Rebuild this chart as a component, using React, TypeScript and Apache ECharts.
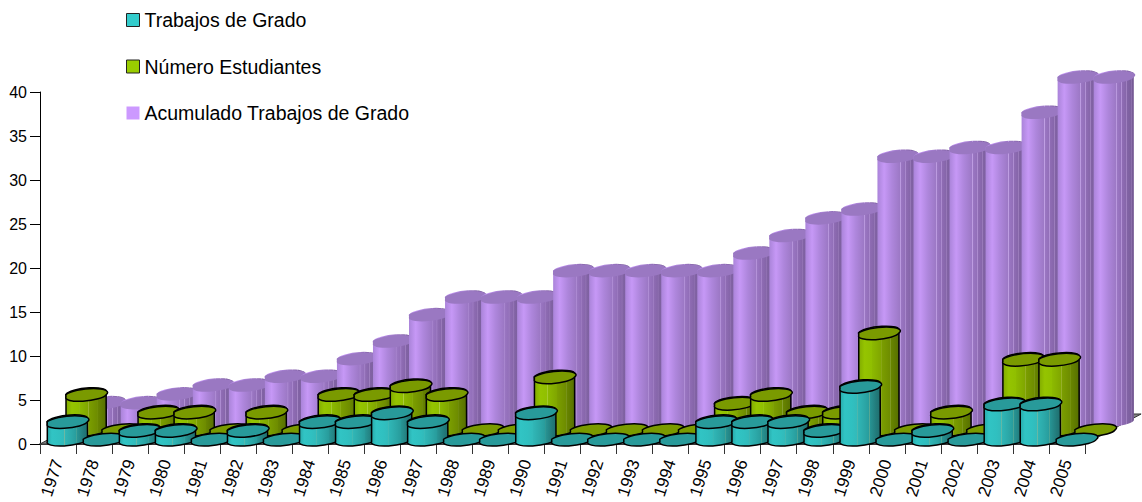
import React, { useEffect, useRef } from "react";
import * as echarts from "echarts";

const years = ["1977","1978","1979","1980","1981","1982","1983","1984","1985","1986","1987","1988","1989","1990","1991","1992","1993","1994","1995","1996","1997","1998","1999","2000","2001","2002","2003","2004","2005"];
const trabajos = [2,0,1,1,0,1,0,2,2,3,2,0,0,3,0,0,0,0,2,2,2,1,6,0,1,0,4,4,0];
const estudiantes = [4,0,2,2,0,2,0,4,4,5,4,0,0,6,0,0,0,0,3,4,2,2,11,0,2,0,8,8,0];
const acumulado = [2,2,3,4,4,5,5,7,9,12,14,14,14,17,17,17,17,17,19,21,23,24,30,30,31,31,35,39,39];

const FONT = "'Liberation Sans', Arial, sans-serif";
const RX = 20.2;
const RY = 5.2;
const TILT = 6.5;
const ROW_DX = 18.7;
const ROW_DY = -9.5;
const FLOOR_DY = -30;

const grad = (stops: [number, string][]) =>
  new echarts.graphic.LinearGradient(0, 0, 1, 0, stops.map(([offset, color]) => ({ offset, color })));

const tealBody: [number, string][] = [[0,"#27a8a8"],[0.12,"#31c4c4"],[0.3,"#30c0c0"],[0.42,"#32baba"],[0.43,"#6fb8a2"],[0.44,"#30b6b6"],[0.6,"#2ca8a8"],[0.72,"#289c9c"],[0.73,"#5aa893"],[0.74,"#279494"],[0.9,"#227a7a"],[1,"#1e6e6e"]];
const greenBody: [number, string][] = [[0,"#80aa00"],[0.15,"#95c400"],[0.32,"#90bf00"],[0.33,"#accd40"],[0.34,"#8cb900"],[0.55,"#80a600"],[0.56,"#9ab330"],[0.57,"#7b9e00"],[0.78,"#6e8c00"],[0.79,"#869f30"],[0.8,"#688500"],[1,"#566f00"]];
const purpleBody: [number, string][] = [[0,"#a983d8"],[0.17,"#c698f6"],[0.36,"#ae86dc"],[0.56,"#9c78c5"],[0.57,"#c0a0e4"],[0.59,"#9a76c2"],[0.68,"#926fb9"],[0.69,"#b494d7"],[0.71,"#8f6cb4"],[0.8,"#8666aa"],[0.81,"#a687c6"],[0.83,"#8263a5"],[0.92,"#7c609e"],[0.93,"#967ab5"],[0.95,"#785c98"],[1,"#725690"]];

const cylinder = (row: number, body: [number, string][], top: string, stroke: string | null) =>
  (_params: any, api: any) => {
    const i = api.value(0);
    const b = api.coord([i, 0]);
    const t = api.coord([i, api.value(1)]);
    const depth = row + 0.5;
    const cx = b[0] + depth * ROW_DX;
    const by = b[1] + depth * ROW_DY;
    const ty = t[1] + depth * ROW_DY;
    const rad = (TILT * Math.PI) / 180;
    const ex = RX * Math.cos(rad);
    const ey = RX * Math.sin(rad);
    const lx = cx - ex;
    const rx = cx + ex;
    const arc = `A ${RX} ${RY} ${-TILT} 0 0`;
    const bodyPath = `M ${lx} ${ty + ey} L ${lx} ${by + ey} ${arc} ${rx} ${by - ey} L ${rx} ${ty - ey} ${arc} ${lx} ${ty + ey} Z`;
    const topPath = `M ${lx} ${ty + ey} ${arc} ${rx} ${ty - ey} ${arc} ${lx} ${ty + ey} Z`;
    const strokeStyle = stroke ? { stroke, lineWidth: 1.5 } : { stroke: "none" };
    const children: any[] = [];
    if (by - ty > 0.5) {
      children.push({ type: "path", shape: { pathData: bodyPath }, style: { fill: grad(body), ...strokeStyle } });
    }
    children.push({ type: "path", shape: { pathData: topPath }, style: { fill: top, ...strokeStyle } });
    return { type: "group", children };
  };

const floor = (_params: any, api: any) => {
  const band = api.size([1, 0])[0];
  const a = api.coord([0, 0]);
  const z = api.coord([years.length - 1, 0]);
  const x0 = a[0] - band / 2;
  const x1 = z[0] + band / 2;
  const y = a[1];
  const dx = 3 * ROW_DX;
  return {
    type: "polygon",
    shape: { points: [[x0, y], [x1, y], [x1 + dx, y + FLOOR_DY], [x0 + dx, y + FLOOR_DY]] },
    style: { fill: "#858585", stroke: "#333333", lineWidth: 1 },
  };
};

const toData = (vals: number[]) => vals.map((v, i) => [i, v]);

export default function App() {
  const ref = useRef<HTMLDivElement>(null);
  useEffect(() => {
    document.body.style.margin = "0";
    const chart = echarts.init(ref.current!, null, { renderer: "svg" });
    chart.setOption({
      animation: false,
      backgroundColor: "#ffffff",
      grid: { left: 40, top: 92, width: 1045, height: 352, containLabel: false, outerBoundsMode: "none" },
      legend: {
        left: 121,
        top: 5,
        orient: "vertical",
        itemWidth: 13,
        itemHeight: 13,
        itemGap: 26.5,
        textStyle: { fontFamily: FONT, fontSize: 19.5, color: "#000000" },
        data: [
          { name: "Trabajos de Grado", icon: "rect", itemStyle: { color: "#33cccc", borderColor: "#222222", borderWidth: 1 } },
          { name: "Número Estudiantes", icon: "rect", itemStyle: { color: "#99cc00", borderColor: "#222222", borderWidth: 1 } },
          { name: "Acumulado Trabajos de Grado", icon: "rect", itemStyle: { color: "#cc99ff", borderWidth: 0 } },
        ],
      },
      xAxis: {
        type: "category",
        data: years,
        boundaryGap: true,
        axisLine: { show: true, lineStyle: { color: "#000000", width: 1.5 } },
        axisTick: { show: true, length: 10, alignWithLabel: false, interval: 0, lineStyle: { color: "#333333", width: 1 } },
        axisLabel: { interval: 0, rotate: 72, margin: 16, fontFamily: FONT, fontSize: 17, color: "#000000", hideOverlap: false },
        splitLine: { show: false },
      },
      yAxis: {
        type: "value",
        min: 0,
        max: 40,
        interval: 5,
        axisLine: { show: true, lineStyle: { color: "#000000", width: 1 } },
        axisTick: { show: true, length: 10, lineStyle: { color: "#000000", width: 1 } },
        axisLabel: { margin: 13, fontFamily: FONT, fontSize: 16, color: "#000000" },
        splitLine: { show: false },
      },
      series: [
        { type: "custom", name: "Piso", silent: true, renderItem: floor, data: [[0, 0]], encode: { x: 0, y: 1 } },
        { type: "custom", name: "Acumulado Trabajos de Grado", silent: true, renderItem: cylinder(2, purpleBody, "#9a78c2", null), data: toData(acumulado), encode: { x: 0, y: 1 } },
        { type: "custom", name: "Número Estudiantes", silent: true, renderItem: cylinder(1, greenBody, "#7a9a00", "#000000"), data: toData(estudiantes), encode: { x: 0, y: 1 } },
        { type: "custom", name: "Trabajos de Grado", silent: true, renderItem: cylinder(0, tealBody, "#289a9a", "#000000"), data: toData(trabajos), encode: { x: 0, y: 1 } },
      ],
    });
    return () => chart.dispose();
  }, []);
  return <div ref={ref} style={{ position: "absolute", left: 0, top: 0, width: 1142, height: 502 }} />;
}
